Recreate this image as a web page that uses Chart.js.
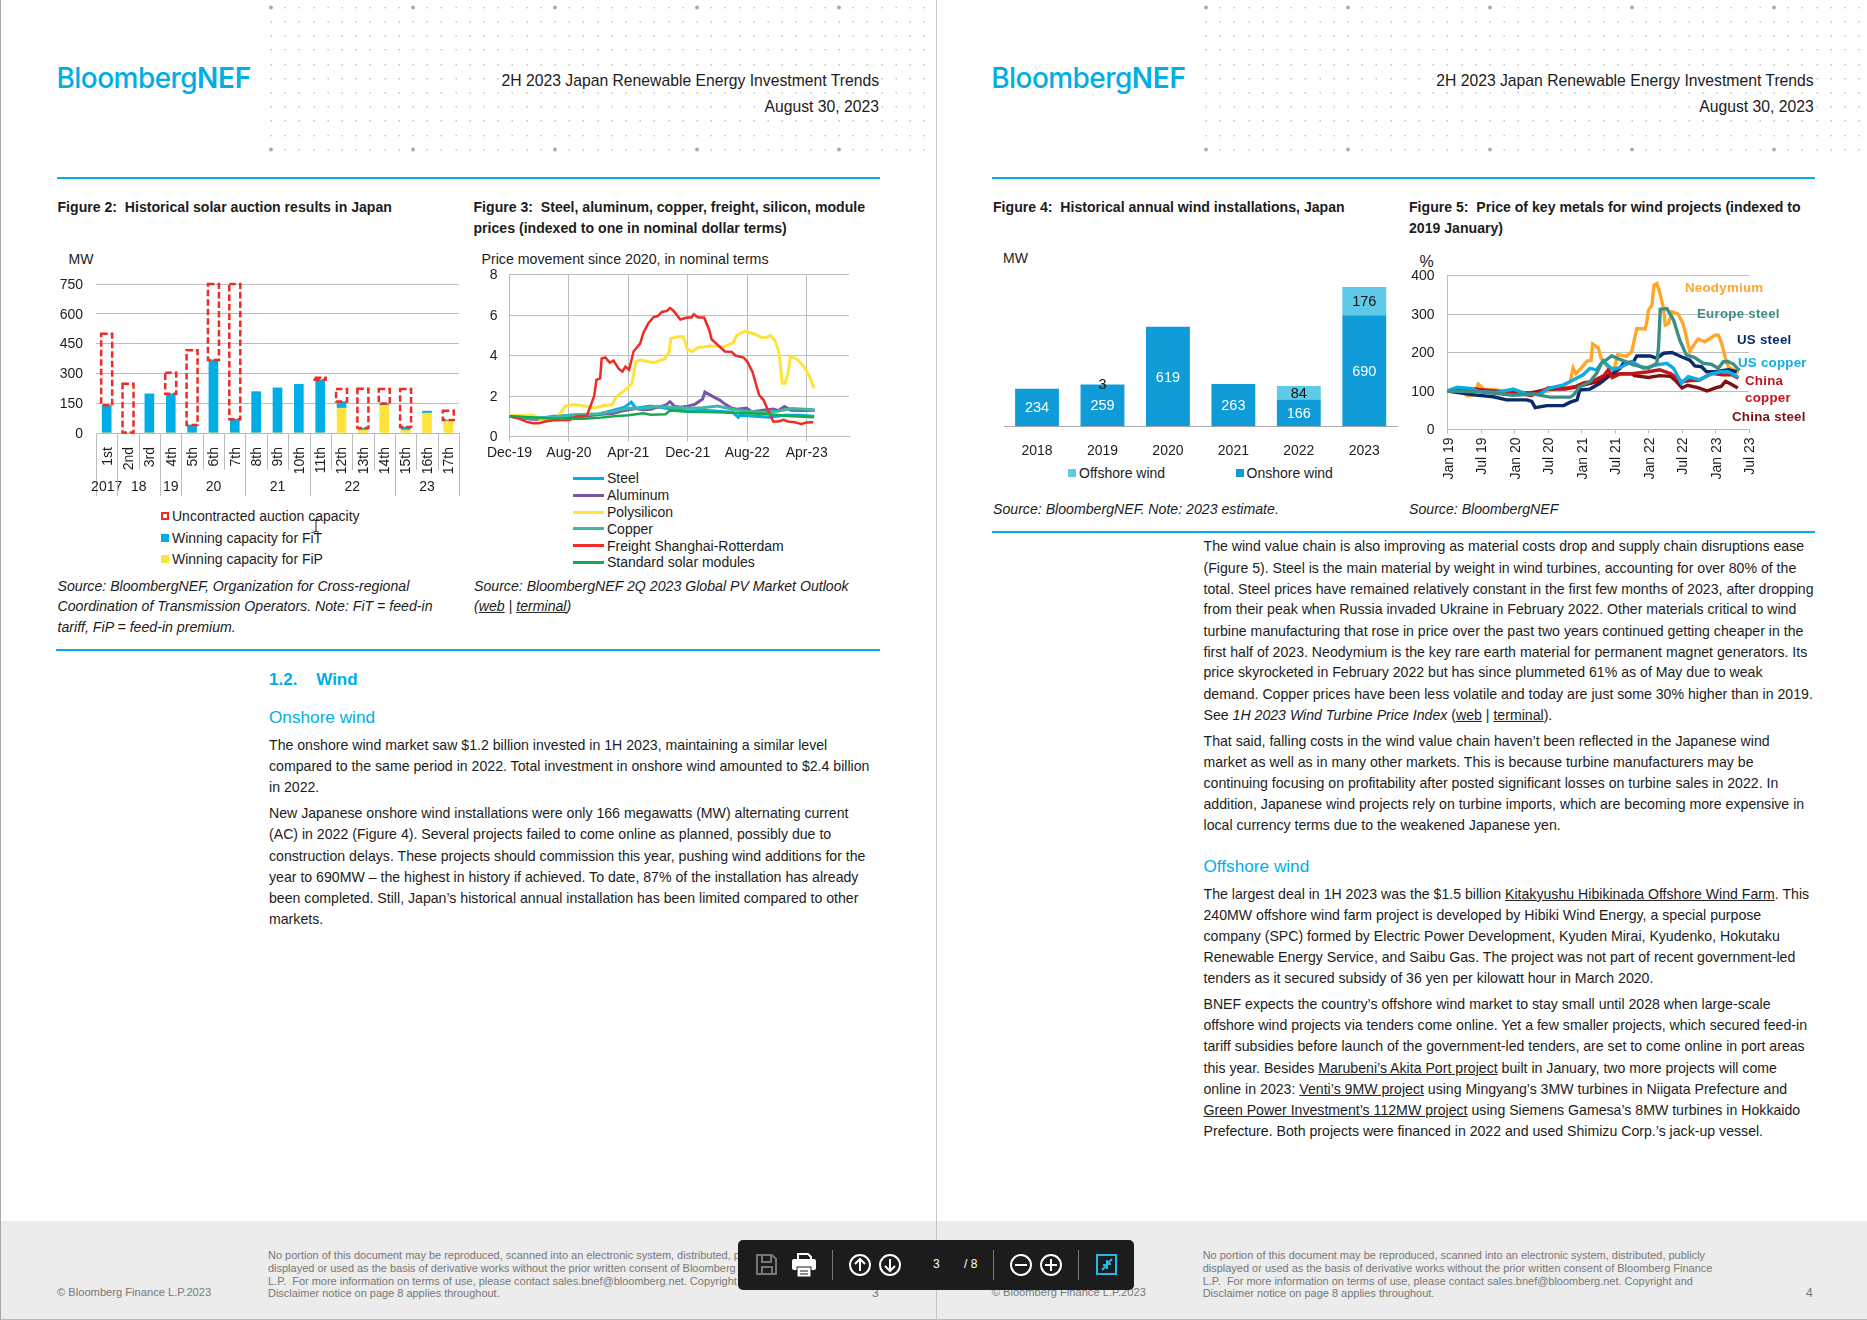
<!DOCTYPE html>
<html>
<head>
<meta charset="utf-8">
<title>2H 2023 Japan Renewable Energy Investment Trends</title>
<script src="https://cdn.jsdelivr.net/npm/chart.js@4"></script>
<style>
  html, body { margin: 0; padding: 0; background: #fff; }
  #page { position: relative; width: 1867px; height: 1320px; overflow: hidden; font-family: "Liberation Sans", Arial, sans-serif; color: #1c1c1c; }
  #page div.t { position: absolute; white-space: nowrap; transform: translateY(-50%); line-height: 1; }
  canvas { position: absolute; }
  .sw { position: absolute; }
  #toolbar { position: absolute; left: 738px; top: 1240px; width: 396px; height: 50px; background: #1c1c1c; border-radius: 5px; z-index: 5; }
</style>
</head>
<body>
<div id="page"></div>
<script>
// Figure 2: solar auctions
const auctionRounds = ["1st","2nd","3rd","4th","5th","6th","7th","8th","9th","10th","11th","12th","13th","14th","15th","16th","17th"];
const fipWon = [0,0,0,0,0,0,0,0,0,0,0,125,15,140,15,100,60];
const fitWon = [140,0,197,197,40,368,69,208,227,245,268,33,10,8,15,10,5];
const uncontracted = [360,248,0,106,377,382,681,0,0,0,10,64,198,74,192,0,47];
const auctionYears = ["2017","18","19","20","21","22","23"];
const auctionYearSpans = [1,2,1,3,3,4,3];

// Figure 3: price movement, x is months since Dec-19
const priceTicks = ["Dec-19","Aug-20","Apr-21","Dec-21","Aug-22","Apr-23"];
const steelM = [0,4,6,8,12,14,15.5,16.4,17,19,20,22,24,26,28,30,30.8,31,33,35,37,39,41];
const steelV = [1,.9,1,1.05,1.1,1.3,1.45,1.7,1.4,1.5,1.45,1.35,1.25,1.3,1.25,1.2,.95,1.05,1,.95,1.05,1.05,1];
const aluminumM = [0,3,6,8,10,12,14,15,16,17,18,19,20,21,21.6,22.2,23,24,25,26,26.3,27.4,28.3,29,29.9,30.6,31.9,32.6,34.2,35.5,36.2,37,37.9,39.5,41.1];
const aluminumV = [1,.85,.85,.95,1,1.08,1.15,1.25,1.32,1.38,1.32,1.35,1.45,1.55,1.72,1.5,1.45,1.5,1.6,1.85,2.2,1.97,1.8,1.6,1.4,1.35,1.4,1.22,1.3,1.36,1.28,1.48,1.3,1.28,1.3];
const polysiliconM = [0,3.2,4.3,6.4,7,7.5,8.7,10.2,11.5,12.6,13.8,14.4,15.6,16.5,17,17.6,19.4,20.9,21.5,21.7,22.7,23.4,23.9,24.5,25.4,27.2,28.8,30.1,30.6,31.7,33,33.9,34.6,35.1,35.7,36.2,36.5,36.7,37.1,37.5,37.8,38.7,39.8,40.4,41];
const polysiliconV = [1.03,1.05,.82,.9,1.23,1.5,1.58,1.5,1.4,1.53,1.56,1.97,2.3,2.63,3.7,3.78,3.65,3.83,4.19,4.84,4.93,4.93,4.35,4.19,4.4,4.47,4.43,4.63,5,5.2,5.05,4.9,4.88,5,4.76,4.27,3.45,2.63,2.63,3.12,3.94,3.83,3.37,2.96,2.38];
const copperM = [0,3,6,8,12,14,16,18,20,22,24,26,28,30,32,34,36,38,41];
const copperV = [1,.9,.95,1.05,1.12,1.25,1.4,1.4,1.48,1.45,1.4,1.42,1.5,1.35,1.25,1.2,1.25,1.38,1.32];
const freightM = [0,1.4,2.3,3.2,3.9,4.8,5.9,8.1,9.1,10.4,10.8,11.4,11.7,12.2,12.4,12.9,13.5,14,14.7,15.2,15.6,16.1,16.7,17.6,18,18.7,19.4,20,20.5,21.2,21.6,22.1,23,23.9,24.5,24.8,25.4,26.2,26.9,27.2,28.1,29,29.9,30.4,31.5,32,32.7,33.6,34.2,34.8,35.5,36.2,36.9,37.5,38.4,39.3,40,40.9];
const freightV = [1,.87,.72,.66,.65,.74,.8,.82,1,1.02,1.4,2,2.8,2.87,3.85,3.9,3.65,3.75,3.35,3.2,3.45,3.3,4.2,4.6,5.1,5.6,5.9,5.95,6.15,6.2,6.35,6.2,5.78,5.88,5.88,6.04,5.88,5.88,5.25,4.8,4.5,4.2,4.18,4,3.9,3.7,3.2,2.05,1.8,1.3,.74,.74,.82,.74,.7,.62,.69,.7];
const modulesM = [0,4,6,10,12,14,16,18,19,21,21.6,24,28,32,35,38,41];
const modulesV = [1,.92,.88,.88,.92,1,1.05,1.15,1.08,1.1,1.28,1.22,1.2,1.15,1.1,1,.95];

// Figure 4: wind installations
const windYears = ["2018","2019","2020","2021","2022","2023"];
const onshoreMW = [234,259,619,263,166,690];
const offshoreMW = [0,3,0,0,84,176];

// Figure 5: metals, x is months since Jan 19
const metalTicks = ["Jan 19","Jul 19","Jan 20","Jul 20","Jan 21","Jul 21","Jan 22","Jul 22","Jan 23","Jul 23"];
const neodymiumM = [0,1.5,3,3.5,4.7,5.5,6.5,9,12,14,18,19,21,22,22.5,23,24,25,25.7,26,27,27.5,28.5,29.5,30,30.5,32,33,33.9,35.4,35.7,36,36.6,37,37.5,37.9,38.7,39,39.6,40.2,41.3,42.2,43.4,43.9,44.9,46.1,47.9,48.5,49.1,49.7,50.3,51.2,52.1];
const neodymiumV = [100,105,95,88,90,118,105,102,100,95,100,105,115,125,160,145,160,178,180,222,212,185,165,150,165,195,190,202,262,261,280,310,323,375,379,362,314,271,275,306,300,275,202,215,235,228,245,245,224,189,163,155,146];
const europeSteelM = [0,5.8,11.8,15.4,18.4,22,22.6,23.7,25.5,26.7,27.6,29.4,30.9,33.3,36,37.5,37.8,38.1,39.3,40.5,41.6,42.8,44.3,45.8,47.3,48.5,49.4,50.3,51.2,52.3];
const europeSteelV = [100,98,89,92,84,84,90,111,124,146,172,191,182,168,159,172,215,312,314,284,232,193,187,172,169,159,176,176,170,153];
const usSteelM = [0,4.7,8.2,10.6,14.2,15.1,15.7,17.8,20.8,22,23.2,23.7,25.5,27.3,28.8,30.9,31.5,33.3,33.9,36.3,37.5,38.7,40.2,41.9,43.4,44.3,45.5,46.4,47.9,50.3,51.8];
const usSteelV = [100,90,85,77,77,73,57,62,62,71,77,103,105,120,137,159,172,176,191,191,185,198,200,189,180,165,163,150,150,155,150];
const usCopperM = [0,1.7,4.1,5.8,8.8,11.8,14.2,16.6,18.1,20.8,22.6,24.3,25.5,26.7,27.9,28.8,29.7,31.2,33,35.1,37.5,39.3,40.5,41.9,43.1,45.2,46.7,48.8,50.3,52.1];
const usCopperV = [100,110,107,98,96,105,92,92,107,116,129,142,159,155,179,165,156,163,176,159,168,172,159,120,137,129,142,150,150,136];
const chinaCopperM = [0,5,8,12,15,17,18,21,23,24.5,26,28,28.8,29.5,31,33,36,38,40,42,43.5,45,47.4,49.2,51,52.1];
const chinaCopperV = [100,105,100,95,88,100,108,107,112,122,125,140,155,135,145,145,150,155,145,124,127,128,146,142,142,133];
const chinaSteelM = [0,4,8,12,15,18,21,23,25,27,28.5,31,33,33.5,36,38,40,41,42,43,45,46.5,48,49,49.8,50.5,52];
const chinaSteelV = [100,103,100,95,95,105,105,110,118,125,140,145,145,140,135,140,138,125,108,115,108,100,108,112,125,120,108];

const BLUE = "#00aee6", GRID = "#bdbdbd", INK = "#1c1c1c";
const page = document.getElementById("page");
Chart.defaults.font.family = '"Liberation Sans", Arial, sans-serif';
Chart.defaults.font.size = 14;
Chart.defaults.color = INK;
Chart.defaults.animation = false;
Chart.defaults.responsive = false;
Chart.defaults.plugins.legend.display = false;
Chart.defaults.plugins.tooltip.enabled = false;

// y is the vertical centre of the line of text
function text(x, y, html, css) {
  const d = document.createElement("div");
  d.className = "t";
  d.innerHTML = html;
  d.style.left = x + "px";
  d.style.top = y + "px";
  d.style.cssText += css || "";
  page.appendChild(d);
  return d;
}
function textRight(right, y, html, css) {
  const d = text(0, y, html, css);
  d.style.left = "auto";
  d.style.right = (1867 - right) + "px";
  return d;
}
function box(x, y, w, h, color) {
  const d = document.createElement("div");
  d.className = "sw";
  d.style.cssText = `left:${x}px;top:${y}px;width:${w}px;height:${h}px;background:${color}`;
  page.appendChild(d);
  return d;
}
function lines(x, ys, rows, css) {
  rows.forEach((r, i) => text(x, ys[i] + 0.5, r, css));
}
function points(m, v) {
  return m.map((x, i) => ({ x: x, y: v[i] }));
}

// makes the canvas and pins the plot area to page coordinates
function makeChart(cv, plot, config) {
  const c = document.createElement("canvas");
  c.width = cv.w; c.height = cv.h;
  c.style.left = cv.x + "px"; c.style.top = cv.y + "px";
  page.appendChild(c);
  config.options.layout = { padding: { left: 0, top: plot.y0 - cv.y, right: cv.x + cv.w - plot.x1, bottom: 0 } };
  const s = config.options.scales;
  s.x.afterFit = a => { a.height = cv.y + cv.h - plot.y1; a.paddingLeft = 0; a.paddingRight = 0; };
  s.y.afterFit = a => { a.width = plot.x0 - cv.x; a.paddingTop = 0; a.paddingBottom = 0; };
  return new Chart(c.getContext("2d"), config);
}

// page furniture
function dots(ox) {
  let s = `<svg width="700" height="160" style="position:absolute;left:${ox + 262}px;top:0">`;
  for (let r = 0; r < 11; r++) for (let c = 0; c < 47; c++) {
    const big = (r === 0 || r === 10) && c % 10 === 0;
    const px = Math.round(9 + c * 14.2), py = Math.round(6.8 + r * 14.2);
    s += big ? `<circle cx="${px}" cy="${py + 0.5}" r="1.9" fill="#aaa"/>`
             : `<rect x="${px - 0.5}" y="${py}" width="1.4" height="1.4" fill="#bdbdbd"/>`;
  }
  const d = document.createElement("div");
  d.innerHTML = s + "</svg>";
  page.appendChild(d);
}
box(0, 1221, 1867, 98, "#ececec");
box(0, 1319, 1867, 1, "#bbb");
box(0, 0, 1, 1320, "#a8a8a8");
box(936, 0, 1, 1320, "#c4c4c4");
[0, 934.7].forEach(ox => {
  dots(ox);
  text(ox + 56.5, 78, "Bloomberg<span style='font-weight:600;letter-spacing:-.3px'>NEF</span>", `font-family:Inter;font-weight:500;font-size:28px;letter-spacing:-.55px;color:${BLUE}`);
  textRight(ox + 879, 80.5, "2H 2023 Japan Renewable Energy Investment Trends", "font-size:15.72px");
  textRight(ox + 879, 106.5, "August 30, 2023", "font-size:15.72px");
  box(ox + 57, 177, 823, 2, BLUE);
  text(ox + 57, 1292.5, "© Bloomberg Finance L.P.2023", "font-size:11.15px;color:#777");
  lines(ox + 268, [1254.5, 1267.5, 1280.5, 1292.5], [
    "No portion of this document may be reproduced, scanned into an electronic system, distributed, publicly",
    "displayed or used as the basis of derivative works without the prior written consent of Bloomberg Finance",
    "L.P.&nbsp; For more information on terms of use, please contact sales.bnef@bloomberg.net. Copyright and",
    "Disclaimer notice on page 8 applies throughout."
  ], "font-size:10.97px;color:#777");
});
text(872, 1292.5, "3", "font-size:12px;color:#777");
text(1806, 1292.5, "4", "font-size:12px;color:#777");
box(56, 649, 824, 2, BLUE);
box(992, 531, 823, 2, BLUE);

// captions
const BOLD = "font-weight:bold;font-size:14.1px";
const SRC = "font-style:italic;font-size:14.15px";
lines(57.5, [206], ["Figure 2:&nbsp; Historical solar auction results in Japan"], BOLD);
lines(473.5, [206, 227], ["Figure 3:&nbsp; Steel, aluminum, copper, freight, silicon, module", "prices (indexed to one in nominal dollar terms)"], BOLD);
lines(993, [206], ["Figure 4:&nbsp; Historical annual wind installations, Japan"], BOLD);
lines(1409, [206, 227], ["Figure 5:&nbsp; Price of key metals for wind projects (indexed to", "2019 January)"], BOLD);
lines(57.5, [585, 605.5, 626], ["Source: BloombergNEF, Organization for Cross-regional", "Coordination of Transmission Operators. Note: FiT = feed-in", "tariff, FiP = feed-in premium."], SRC);
lines(474, [585, 605.5], ["Source: BloombergNEF 2Q 2023 Global PV Market Outlook", "(<u>web</u> | <u>terminal</u>)"], SRC);
lines(993, [508.5], ["Source: BloombergNEF. Note: 2023 estimate."], SRC);
lines(1409, [508.5], ["Source: BloombergNEF"], SRC);

// body text
const BODY = "font-size:14.13px";
const HEAD = `font-size:17.2px;color:${BLUE}`;
text(269, 678.7, "1.2.&nbsp;&nbsp;&nbsp; Wind", `font-size:17px;font-weight:bold;color:${BLUE}`);
text(269, 717.5, "Onshore wind", HEAD);
lines(269, [744, 765, 786, 812, 833.5, 855, 876, 897, 918], [
  "The onshore wind market saw $1.2 billion invested in 1H 2023, maintaining a similar level",
  "compared to the same period in 2022. Total investment in onshore wind amounted to $2.4 billion",
  "in 2022.",
  "New Japanese onshore wind installations were only 166 megawatts (MW) alternating current",
  "(AC) in 2022 (Figure 4). Several projects failed to come online as planned, possibly due to",
  "construction delays. These projects should commission this year, pushing wind additions for the",
  "year to 690MW – the highest in history if achieved. To date, 87% of the installation has already",
  "been completed. Still, Japan’s historical annual installation has been limited compared to other",
  "markets."
], BODY);
lines(1203.5, [545, 567, 588, 608.5, 630, 651, 671.5, 693, 714.5, 740, 761, 782, 803, 824], [
  "The wind value chain is also improving as material costs drop and supply chain disruptions ease",
  "(Figure 5). Steel is the main material by weight in wind turbines, accounting for over 80% of the",
  "total. Steel prices have remained relatively constant in the first few months of 2023, after dropping",
  "from their peak when Russia invaded Ukraine in February 2022. Other materials critical to wind",
  "turbine manufacturing that rose in price over the past two years continued getting cheaper in the",
  "first half of 2023. Neodymium is the key rare earth material for permanent magnet generators. Its",
  "price skyrocketed in February 2022 but has since plummeted 61% as of May due to weak",
  "demand. Copper prices have been less volatile and today are just some 30% higher than in 2019.",
  "See <i>1H 2023 Wind Turbine Price Index</i> (<u>web</u> | <u>terminal</u>).",
  "That said, falling costs in the wind value chain haven’t been reflected in the Japanese wind",
  "market as well as in many other markets. This is because turbine manufacturers may be",
  "continuing focusing on profitability after posted significant losses on turbine sales in 2022. In",
  "addition, Japanese wind projects rely on turbine imports, which are becoming more expensive in",
  "local currency terms due to the weakened Japanese yen."
], BODY);
text(1203.5, 866.8, "Offshore wind", HEAD);
lines(1203.5, [893, 914.5, 935, 956, 977.5, 1003.5, 1024.5, 1045.5, 1067, 1088, 1109, 1130], [
  "The largest deal in 1H 2023 was the $1.5 billion <u>Kitakyushu Hibikinada Offshore Wind Farm</u>. This",
  "240MW offshore wind farm project is developed by Hibiki Wind Energy, a special purpose",
  "company (SPC) formed by Electric Power Development, Kyuden Mirai, Kyudenko, Hokutaku",
  "Renewable Energy Service, and Saibu Gas. The project was not part of recent government-led",
  "tenders as it secured subsidy of 36 yen per kilowatt hour in March 2020.",
  "BNEF expects the country’s offshore wind market to stay small until 2028 when large-scale",
  "offshore wind projects via tenders come online. Yet a few smaller projects, which secured feed-in",
  "tariff subsidies before launch of the government-led tenders, are set to come online in port areas",
  "this year. Besides <u>Marubeni’s Akita Port project</u> built in January, two more projects will come",
  "online in 2023: <u>Venti’s 9MW project</u> using Mingyang’s 3MW turbines in Niigata Prefecture and",
  "<u>Green Power Investment’s 112MW project</u> using Siemens Gamesa’s 8MW turbines in Hokkaido",
  "Prefecture. Both projects were financed in 2022 and used Shimizu Corp.’s jack-up vessel."
], BODY);

// Figure 2 chart
text(68.5, 259, "MW", "font-size:14px");
const dashedBars = {
  id: "dashedBars",
  afterDatasetsDraw(chart) {
    const g = chart.ctx;
    g.save();
    g.strokeStyle = "#ee2b24"; g.lineWidth = 2.5; g.setLineDash([6.5, 3]);
    chart.getDatasetMeta(2).data.forEach((b, i) => {
      if (!uncontracted[i]) return;
      g.strokeRect(b.x - 5.5, b.y, 11, b.base - b.y);
    });
    g.restore();
  }
};
const yearRows = {
  id: "yearRows",
  afterDraw(chart) {
    const g = chart.ctx, xs = chart.scales.x, bottom = chart.chartArea.bottom;
    const step = xs.getPixelForTick(1) - xs.getPixelForTick(0);
    g.save();
    g.strokeStyle = GRID; g.lineWidth = 1;
    for (let i = 0; i <= auctionRounds.length; i++) {
      const px = Math.round(xs.getPixelForTick(0) - step / 2 + i * step) + 0.5;
      g.beginPath(); g.moveTo(px, bottom); g.lineTo(px, bottom + 37); g.stroke();
    }
    g.fillStyle = INK; g.font = '14px "Liberation Sans"'; g.textAlign = "center"; g.textBaseline = "middle";
    let at = 0;
    auctionYears.forEach((label, i) => {
      const px = Math.round(xs.getPixelForTick(0) - step / 2 + at * step) + 0.5;
      g.beginPath(); g.moveTo(px, bottom + 37); g.lineTo(px, bottom + 63); g.stroke();
      g.fillText(label, xs.getPixelForTick(at) + (auctionYearSpans[i] - 1) * step / 2, bottom + 54.5);
      at += auctionYearSpans[i];
    });
    const px = Math.round(xs.getPixelForTick(0) - step / 2 + at * step) + 0.5;
    g.beginPath(); g.moveTo(px, bottom + 37); g.lineTo(px, bottom + 63); g.stroke();
    g.restore();
  }
};
makeChart({ x: 50, y: 270, w: 420, h: 232 }, { x0: 96, y0: 284, x1: 459, y1: 433 }, {
  type: "bar",
  data: {
    labels: auctionRounds,
    datasets: [
      { label: "Winning capacity for FiP", data: fipWon, backgroundColor: "#ffe33b", barThickness: 9 },
      { label: "Winning capacity for FiT", data: fitWon, backgroundColor: "#00ade4", barThickness: 9 },
      { label: "Uncontracted auction capacity", data: uncontracted, backgroundColor: "rgba(0,0,0,0)", barThickness: 9 }
    ]
  },
  options: {
    scales: {
      x: { stacked: true, grid: { display: false }, border: { color: GRID },
           ticks: { autoSkip: false, minRotation: 90, maxRotation: 90, padding: 6, labelOffset: 1 } },
      y: { stacked: true, min: 0, max: 750, grid: { color: GRID, drawTicks: false }, border: { display: false },
           ticks: { stepSize: 150, padding: 13, labelOffset: 1 } }
    }
  },
  plugins: [dashedBars, yearRows]
});
[["Uncontracted auction capacity", 516], ["Winning capacity for FiT", 537.5], ["Winning capacity for FiP", 559]].forEach((r, i) => {
  text(172, r[1], r[0], "font-size:14px");
  if (i === 0) {
    const d = box(161, r[1] - 4, 8, 8, "transparent");
    d.style.border = "2px dashed #ee2b24";
    d.style.boxSizing = "border-box";
  } else {
    box(161, r[1] - 4, 8, 8, i === 1 ? "#00ade4" : "#ffe33b");
  }
});
page.insertAdjacentHTML("beforeend", '<svg width="12" height="16" style="position:absolute;left:310px;top:519px;z-index:3"><path d="M3 1h2l1 1 1-1h2M6 2v10M3 13h2l1-1 1 1h2" stroke="#222" fill="none"/></svg>');

// Figure 3 chart
text(481.5, 259, "Price movement since 2020, in nominal terms", "font-size:14.2px");
const priceSeries = [
  ["Steel", "#00aee6", steelM, steelV, 3],
  ["Aluminum", "#7a56a6", aluminumM, aluminumV, 3],
  ["Polysilicon", "#ffe33b", polysiliconM, polysiliconV, 3],
  ["Copper", "#3fb7a6", copperM, copperV, 3],
  ["Freight Shanghai-Rotterdam", "#ee2b24", freightM, freightV, 2.5],
  ["Standard solar modules", "#14ab4c", modulesM, modulesV, 2.5]
];
makeChart({ x: 470, y: 264, w: 395, h: 205 }, { x0: 509.5, y0: 274.5, x1: 849, y1: 436.5 }, {
  type: "line",
  data: { datasets: priceSeries.map((s, i) => ({
    label: s[0], data: points(s[2], s[3]), borderColor: s[1], borderWidth: s[4],
    pointRadius: 0, tension: 0, order: priceSeries.length - i
  })) },
  options: {
    scales: {
      x: { type: "linear", min: 0, max: 45.7, grid: { color: GRID, tickLength: 5 }, border: { color: GRID },
           ticks: { stepSize: 8, includeBounds: false, autoSkip: false, maxRotation: 0, minRotation: 0, padding: 3, callback: v => priceTicks[v / 8] } },
      y: { min: 0, max: 8, grid: { color: GRID, drawTicks: false }, border: { color: GRID },
           ticks: { stepSize: 2, padding: 12, labelOffset: 1 } }
    }
  }
});
priceSeries.forEach((s, i) => {
  const y = [478, 495, 512, 528.5, 545.5, 562][i];
  box(573, y - 1.5, 31, 3, s[1]);
  text(607, y, s[0], "font-size:14px");
});

// Figure 4 chart
text(1003, 258, "MW", "font-size:14px");
const stackLabels = {
  id: "stackLabels",
  afterDatasetsDraw(chart) {
    const g = chart.ctx;
    g.save();
    g.font = '14.5px "Liberation Sans"'; g.textAlign = "center"; g.textBaseline = "middle";
    chart.data.datasets.forEach((ds, k) => {
      g.fillStyle = k === 0 ? "#fff" : "#111";
      chart.getDatasetMeta(k).data.forEach((b, i) => {
        if (ds.data[i]) g.fillText(ds.data[i], b.x, (b.y + b.base) / 2 + 1);
      });
    });
    g.restore();
  }
};
makeChart({ x: 995, y: 270, w: 410, h: 190 }, { x0: 1004.3, y0: 281.5, x1: 1397, y1: 426.3 }, {
  type: "bar",
  data: {
    labels: windYears,
    datasets: [
      { label: "Onshore wind", data: onshoreMW, backgroundColor: "#0f9bd8", categoryPercentage: 0.67, barPercentage: 1 },
      { label: "Offshore wind", data: offshoreMW, backgroundColor: "#5fc9e8", categoryPercentage: 0.67, barPercentage: 1 }
    ]
  },
  options: {
    scales: {
      x: { stacked: true, grid: { display: false }, border: { color: "#aaa" }, ticks: { padding: 8 } },
      y: { stacked: true, display: false, min: 0, max: 900 }
    }
  },
  plugins: [stackLabels]
});
box(1068, 468.5, 8, 8, "#5fc9e8");
text(1079, 472.5, "Offshore wind", "font-size:14px");
box(1236, 468.5, 8, 8, "#0f9bd8");
text(1246.5, 472.5, "Onshore wind", "font-size:14px");

// Figure 5 chart
text(1419.5, 261.5, "%", "font-size:16px");
const metalSeries = [
  ["Europe steel", "#3c8f85", europeSteelM, europeSteelV],
  ["US copper", "#0cade3", usCopperM, usCopperV],
  ["China copper", "#c3151b", chinaCopperM, chinaCopperV],
  ["China steel", "#7f1010", chinaSteelM, chinaSteelV],
  ["US steel", "#0a2a6e", usSteelM, usSteelV],
  ["Neodymium", "#ffa62b", neodymiumM, neodymiumV]
];
makeChart({ x: 1405, y: 265, w: 355, h: 225 }, { x0: 1447.5, y0: 275.5, x1: 1749, y1: 429.5 }, {
  type: "line",
  data: { datasets: metalSeries.map(s => ({
    label: s[0], data: points(s[2], s[3]), borderColor: s[1], borderWidth: 3.4,
    pointRadius: 0, tension: 0
  })) },
  options: {
    scales: {
      x: { type: "linear", min: 0, max: 54, grid: { drawOnChartArea: false, color: GRID, tickLength: 4 }, border: { color: GRID },
           ticks: { stepSize: 6, autoSkip: false, minRotation: 90, maxRotation: 90, padding: 4, labelOffset: 1.5, callback: v => metalTicks[v / 6] } },
      y: { min: 0, max: 400, grid: { color: GRID, drawTicks: false }, border: { color: GRID },
           ticks: { stepSize: 100, padding: 13, labelOffset: 1 } }
    }
  }
});
const LABEL = "font-weight:bold;font-size:13.3px;letter-spacing:.25px;";
text(1685, 288, "Neodymium", LABEL + "color:#ffa62b");
text(1697, 314, "Europe steel", LABEL + "color:#3c8f85");
text(1737, 340, "US steel", LABEL + "color:#0a2a6e");
text(1738, 362.5, "US copper", LABEL + "color:#0cade3");
text(1745, 380.5, "China", LABEL + "color:#c3151b");
text(1745, 397.5, "copper", LABEL + "color:#c3151b");
text(1732, 416.5, "China steel", LABEL + "color:#7f1010");

// viewer toolbar
page.insertAdjacentHTML("beforeend", `<div id="toolbar"><svg width="396" height="50" fill="none" stroke="#fff" stroke-width="2">
  <path d="M19 15h15l4 4v15H19zM24 15v7h9v-7M24 34v-7h10v7" stroke="#777"/>
  <path d="M60 19v-5h10l3 3v2" stroke-width="2"/>
  <rect x="54" y="19" width="24" height="11" rx="2" fill="#fff" stroke="none"/>
  <rect x="59" y="27" width="14" height="10" fill="#fff" stroke="#1c1c1c" stroke-width="1"/>
  <path d="M62 31h8M62 34h8" stroke="#1c1c1c" stroke-width="1"/>
  <path d="M94.5 10v30M255.5 10v30M340.5 10v30" stroke="#777" stroke-width="1"/>
  <circle cx="122" cy="25" r="10"/><path d="M122 31V19M117 24l5-5 5 5"/>
  <circle cx="152" cy="25" r="10"/><path d="M152 19v12M147 26l5 5 5-5"/>
  <circle cx="283" cy="25" r="10"/><path d="M277 25h12"/>
  <circle cx="313" cy="25" r="10"/><path d="M307 25h12M313 19v12"/>
  <rect x="359" y="15" width="19" height="19" stroke="#25b7ea"/>
  <path d="M364 30l4-4M365 25h4v4M374 19l-4 4M373 24h-4v-4" stroke="#25b7ea" stroke-width="2"/>
</svg><div class="t" style="left:195px;top:24px;color:#fff;font-size:12px">3</div><div class="t" style="left:226px;top:24px;color:#fff;font-size:12px">/ 8</div></div>`);
</script>
</body>
</html>
